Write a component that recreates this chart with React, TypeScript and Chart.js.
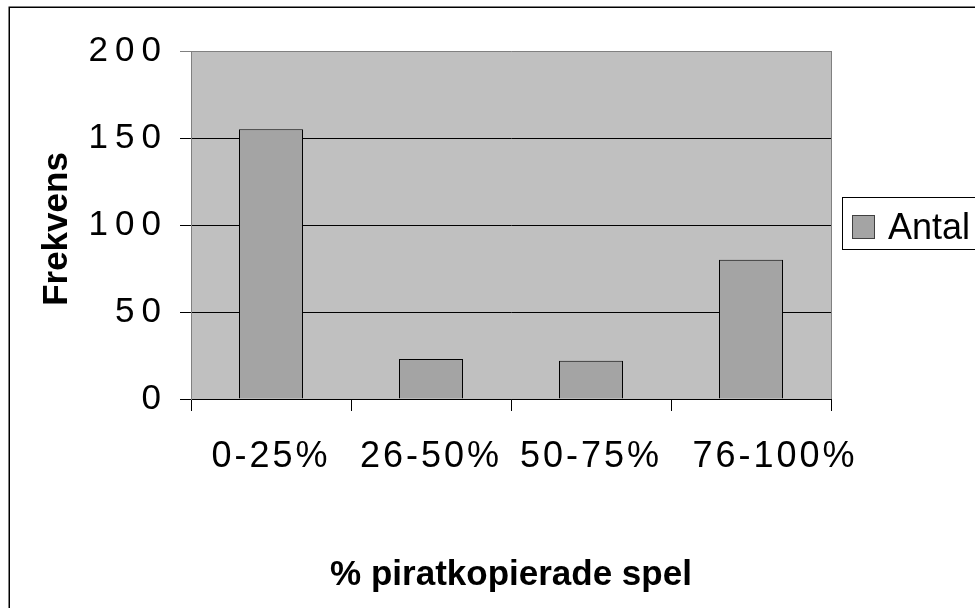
import React, { useEffect, useRef } from "react";
import { Chart, registerables } from "chart.js";

Chart.register(...registerables);

const categories = ["0-25%", "26-50%", "50-75%", "76-100%"];
const seriesLabel = "Antal";
const seriesValues = [155, 23, 22, 80];
const yTicks = [0, 50, 100, 150, 200];
const xTitle = "% piratkopierade spel";
const yTitle = "Frekvens";

const FONT = "'Liberation Sans', Arial, sans-serif";
const PLOT_BG = "#c0c0c0";
const BAR_COLOR = "#a4a4a4";
const LAST_LABEL_SHIFT = 24;
const Y_TITLE_SHIFT = 4;

const decorPlugin = {
  id: "decor",
  beforeDraw(chart: any) {
    const { ctx, chartArea } = chart;
    ctx.save();
    ctx.fillStyle = PLOT_BG;
    ctx.fillRect(chartArea.left, chartArea.top, chartArea.right - chartArea.left, chartArea.bottom - chartArea.top);
    ctx.restore();
    const wrap = (scale: any, spacing: string) => {
      if (!scale || scale.__wrapped) return;
      const orig = scale.drawLabels.bind(scale);
      scale.drawLabels = (ca: any) => {
        const c: any = chart.ctx;
        const prev = c.letterSpacing;
        c.letterSpacing = spacing;
        orig(ca);
        c.letterSpacing = prev || "0px";
      };
      scale.__wrapped = true;
    };
    wrap(chart.scales.y, "7px");
    wrap(chart.scales.x, "3px");
    const ys = chart.scales.y;
    if (ys && !ys.__titleShift) {
      const origTitle = ys.drawTitle.bind(ys);
      ys.drawTitle = () => {
        chart.ctx.save();
        chart.ctx.translate(0, Y_TITLE_SHIFT);
        origTitle();
        chart.ctx.restore();
      };
      ys.__titleShift = true;
    }
    const xs = chart.scales.x;
    if (xs && !xs.__shifted) {
      const origItems = xs.getLabelItems.bind(xs);
      xs.getLabelItems = (ca: any) => {
        const items = origItems(ca);
        if (items && items.length && !(items as any).__done) {
          const last = items[items.length - 1];
          last.options.translation = [last.options.translation[0] + LAST_LABEL_SHIFT, last.options.translation[1]];
          (items as any).__done = true;
        }
        return items;
      };
      xs.__shifted = true;
    }
  },
  afterDraw(chart: any) {
    const { ctx, chartArea } = chart;
    ctx.save();
    ctx.strokeStyle = "#808080";
    ctx.lineWidth = 1;
    ctx.beginPath();
    ctx.moveTo(Math.round(chartArea.right) + 0.5, chartArea.top);
    ctx.lineTo(Math.round(chartArea.right) + 0.5, chartArea.bottom);
    ctx.stroke();
    ctx.strokeStyle = "#000";
    ctx.lineWidth = 1.5;
    ctx.strokeRect(9.25, 7.25, 1200, 1200);
    const ds = chart.data.datasets[0];
    const lx = 842.5, ly = 197.5;
    ctx.lineWidth = 1;
    ctx.strokeStyle = "#000";
    ctx.fillStyle = "#fff";
    ctx.fillRect(lx, ly, 300, 52);
    ctx.strokeRect(lx, ly, 300, 52);
    ctx.fillStyle = ds.backgroundColor;
    ctx.fillRect(852.5, 215.5, 22, 23);
    ctx.strokeStyle = "#404040";
    ctx.strokeRect(852.5, 215.5, 22, 23);
    ctx.fillStyle = "#000";
    ctx.font = `36px ${FONT}`;
    ctx.textBaseline = "alphabetic";
    ctx.textAlign = "left";
    ctx.fillText(ds.label, 888, 239);
    ctx.restore();
  },
};

export default function App() {
  const ref = useRef<HTMLCanvasElement | null>(null);
  useEffect(() => {
    if (!ref.current) return;
    const chart = new Chart(ref.current, {
      type: "bar",
      data: {
        labels: categories,
        datasets: [
          {
            label: seriesLabel,
            data: seriesValues,
            backgroundColor: BAR_COLOR,
            borderColor: "#000",
            borderWidth: 1,
            categoryPercentage: 0.8,
            barPercentage: 0.5,
          },
        ],
      },
      options: {
        animation: false,
        responsive: false,
        devicePixelRatio: 1,
        layout: { padding: { top: 51, right: 144, left: 0, bottom: 0 } },
        plugins: { legend: { display: false }, tooltip: { enabled: false } },
        scales: {
          x: {
            offset: true,
            afterFit: (s: any) => {
              s.height = 209;
            },
            grid: {
              offset: true,
              drawOnChartArea: false,
              drawTicks: true,
              tickLength: 12,
              color: "#000",
            },
            border: { display: true, color: "#000", width: 1 },
            ticks: {
              color: "#000",
              font: { family: FONT, size: 36 },
              padding: 24,
              maxRotation: 0,
              autoSkip: false,
            },
            title: {
              display: true,
              text: xTitle,
              color: "#000",
              font: { family: FONT, size: 35, weight: "bold" },
              padding: { top: 0, bottom: 12 },
            },
          },
          y: {
            min: 0,
            max: 200,
            afterFit: (s: any) => {
              s.width = 191;
            },
            afterBuildTicks: (s: any) => {
              s.ticks = yTicks.map((v) => ({ value: v }));
            },
            grid: {
              color: (c: any) => (c.tick && c.tick.value === 200 ? "#808080" : "#000"),
              tickLength: 11,
              lineWidth: 1,
            },
            border: { display: true, color: "#808080", width: 1 },
            ticks: {
              color: "#000",
              font: { family: FONT, size: 35 },
              padding: 12,
            },
            title: {
              display: true,
              text: yTitle,
              color: "#000",
              font: { family: FONT, size: 35, weight: "bold" },
              padding: { top: 36, bottom: 0 },
            },
          },
        },
      },
      plugins: [decorPlugin],
    });
    return () => chart.destroy();
  }, []);
  return (
    <div style={{ position: "absolute", left: 0, top: 0, width: 975, height: 608, background: "#fff" }}>
      <canvas ref={ref} width={975} height={608} style={{ display: "block" }} />
    </div>
  );
}
